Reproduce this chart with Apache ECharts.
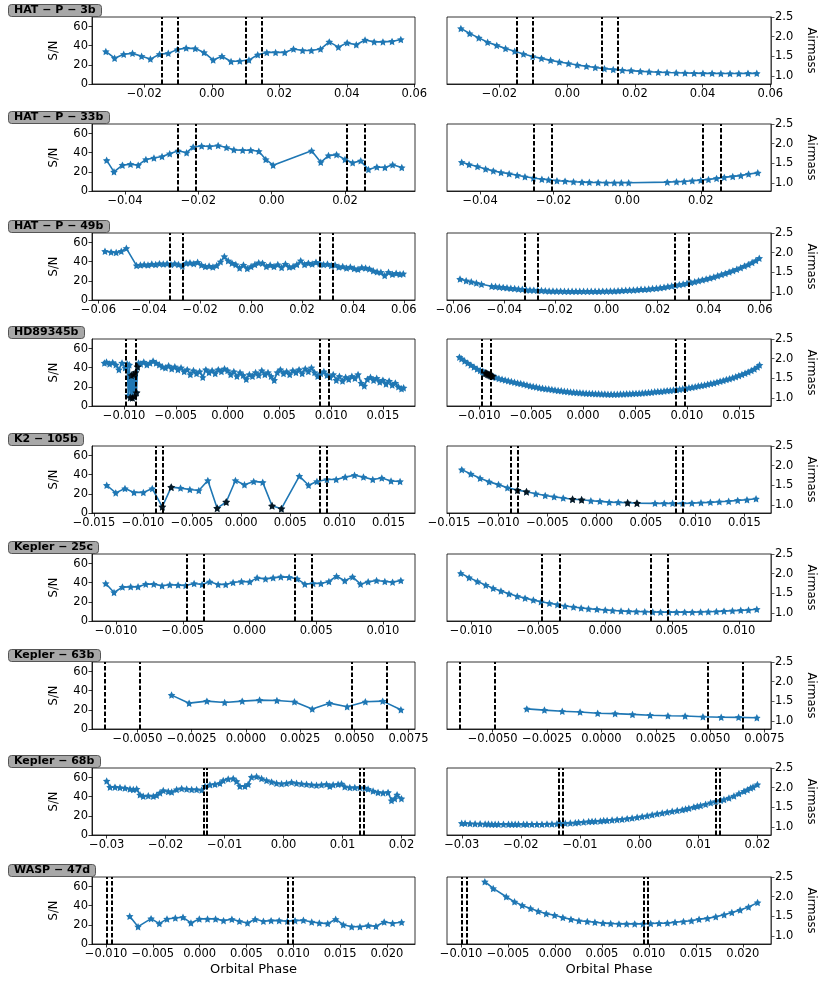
<!DOCTYPE html>
<html>
<head>
<meta charset="utf-8">
<script src="https://cdn.jsdelivr.net/npm/echarts@6/dist/echarts.min.js"></script>
<style>
  html, body { margin: 0; padding: 0; background: #fff; }
  #chart { width: 830px; height: 981px; }
</style>
</head>
<body>
<div id="chart"></div>
<script>
// ---- data ----
var planetLabels = ['HAT − P − 3b', 'HAT − P − 33b', 'HAT − P − 49b', 'HD89345b', 'K2 − 105b',
                    'Kepler − 25c', 'Kepler − 63b', 'Kepler − 68b', 'WASP − 47d'];

// HAT-P-3b
var hatp3bPhase = [-0.0314, -0.0288, -0.0261, -0.0235, -0.0208, -0.0182, -0.0155, -0.0129, -0.0102, -0.0076,
  -0.0049, -0.0023, 0.0004, 0.0030, 0.0057, 0.0083, 0.0110, 0.0136, 0.0163, 0.0189,
  0.0216, 0.0242, 0.0269, 0.0295, 0.0322, 0.0348, 0.0375, 0.0401, 0.0428, 0.0454,
  0.0481, 0.0507, 0.0534, 0.0560];
var hatp3bSnr = [34, 27, 31, 32, 29, 26, 31, 32, 36, 37.5, 37, 33, 25, 29, 23.5, 24, 25, 30.5, 33, 33,
  33, 36.5, 35, 35, 36.5, 44, 38.5, 43, 41, 46, 44, 44, 44.5, 46.5];
var hatp3bAirmass = [2.21, 2.08, 1.97, 1.86, 1.78, 1.70, 1.63, 1.56, 1.50, 1.45, 1.40, 1.36, 1.32, 1.28, 1.25,
  1.22, 1.19, 1.17, 1.15, 1.14, 1.12, 1.11, 1.10, 1.09, 1.085, 1.08, 1.075, 1.07, 1.07, 1.065,
  1.065, 1.065, 1.07, 1.07];

// HAT-P-33b
var hatp33bPhase = [-0.0450, -0.0430, -0.0407, -0.0385, -0.0364, -0.0343, -0.0321, -0.0299, -0.0278, -0.0255,
  -0.0232, -0.0214, -0.0191, -0.0169, -0.0146, -0.0123, -0.0103, -0.0079, -0.0057, -0.0035,
  -0.0016, 0.0004, 0.0109, 0.0134, 0.0155, 0.0177, 0.0200, 0.0221, 0.0243, 0.0264,
  0.0287, 0.0309, 0.0330, 0.0355];
var hatp33bSnr = [32, 20, 27, 28, 27, 33, 34.5, 36, 39, 42, 40, 46, 47, 46.5, 47.5, 45.5, 43, 42.5, 42.5, 41.5,
  33, 27, 42, 30, 37, 38, 33, 29.5, 31.5, 22.5, 25, 24.5, 27.5, 24.5];
var hatp33bAirmass = [1.53, 1.47, 1.42, 1.36, 1.31, 1.27, 1.24, 1.20, 1.16, 1.13, 1.10, 1.085, 1.06, 1.05, 1.035,
  1.025, 1.02, 1.015, 1.01, 1.01, 1.01, 1.01, 1.025, 1.035, 1.04, 1.06, 1.075, 1.09, 1.12, 1.145,
  1.17, 1.19, 1.23, 1.26];

// HAT-P-49b
var hatp49bPhase = [-0.0574, -0.0550, -0.0530, -0.0510, -0.0490, -0.0450, -0.0435, -0.0420, -0.0405, -0.0390,
  -0.0375, -0.0360, -0.0345, -0.0330, -0.0315, -0.0300, -0.0285, -0.0270, -0.0255, -0.0240,
  -0.0225, -0.0210, -0.0195, -0.0180, -0.0165, -0.0150, -0.0135, -0.0120, -0.0105, -0.0090,
  -0.0075, -0.0060, -0.0045, -0.0030, -0.0015, 0.0000, 0.0015, 0.0030, 0.0045, 0.0060,
  0.0075, 0.0090, 0.0105, 0.0120, 0.0135, 0.0150, 0.0165, 0.0180, 0.0195, 0.0210,
  0.0225, 0.0240, 0.0255, 0.0270, 0.0285, 0.0300, 0.0315, 0.0330, 0.0345, 0.0360,
  0.0375, 0.0390, 0.0405, 0.0420, 0.0435, 0.0450, 0.0465, 0.0480, 0.0495, 0.0510,
  0.0525, 0.0540, 0.0555, 0.0570, 0.0585, 0.0598];
var hatp49bSnr = [51, 50, 49.5, 51, 54, 36, 36.5, 37, 36.5, 37.5,
  37, 38, 37.5, 38, 37, 38, 37, 35.5, 38.5, 39,
  38, 39.5, 36.5, 35, 35.5, 34.5, 36, 40, 45.5, 41,
  38.5, 37, 33.5, 36.5, 33, 35, 37, 39, 38.5, 35,
  36.5, 35, 37, 34, 37.5, 34.5, 35, 37, 41, 37,
  38.5, 37.5, 39.5, 38, 37, 37.5, 36, 36.5, 34.5, 35,
  33.5, 34.5, 33, 32, 34, 33.5, 32.5, 30.5, 29.5, 29,
  25.5, 29, 27, 28, 27, 27.5];
var hatp49bAirmass = [1.33, 1.29, 1.26, 1.23, 1.20, 1.15, 1.14, 1.13, 1.12, 1.11,
  1.10, 1.09, 1.08, 1.07, 1.06, 1.055, 1.05, 1.045, 1.04, 1.035,
  1.03, 1.03, 1.025, 1.025, 1.02, 1.02, 1.02, 1.02, 1.02, 1.02,
  1.02, 1.02, 1.02, 1.02, 1.025, 1.025, 1.03, 1.03, 1.035, 1.04,
  1.045, 1.05, 1.055, 1.06, 1.07, 1.075, 1.08, 1.09, 1.10, 1.11,
  1.125, 1.14, 1.155, 1.175, 1.19, 1.205, 1.225, 1.245, 1.265, 1.29,
  1.31, 1.335, 1.36, 1.385, 1.415, 1.445, 1.475, 1.51, 1.545, 1.58,
  1.62, 1.66, 1.70, 1.75, 1.80, 1.86];

// HD89345b
var hd89345bPhase = [-0.0119, -0.0117, -0.0114, -0.0111, -0.0108, -0.0105, -0.0102, -0.0099, -0.0097, -0.0096,
  -0.0095, -0.0094, -0.0093, -0.0092, -0.0091, -0.0090, -0.0089, -0.0088, -0.0087, -0.0086,
  -0.0084, -0.0081, -0.0078, -0.0075, -0.0072, -0.0069, -0.0066, -0.0063, -0.0060, -0.0057,
  -0.0054, -0.0051, -0.0048, -0.0045, -0.0042, -0.0039, -0.0036, -0.0033, -0.0030, -0.0027,
  -0.0024, -0.0021, -0.0018, -0.0015, -0.0012, -0.0009, -0.0006, -0.0003, 0.0000, 0.0003,
  0.0006, 0.0009, 0.0012, 0.0015, 0.0018, 0.0021, 0.0024, 0.0027, 0.0030, 0.0033,
  0.0036, 0.0039, 0.0042, 0.0045, 0.0048, 0.0051, 0.0054, 0.0057, 0.0060, 0.0063,
  0.0066, 0.0069, 0.0072, 0.0075, 0.0078, 0.0081, 0.0084, 0.0087, 0.0090, 0.0093,
  0.0096, 0.0099, 0.0102, 0.0105, 0.0108, 0.0111, 0.0114, 0.0117, 0.0120, 0.0123,
  0.0126, 0.0129, 0.0132, 0.0135, 0.0138, 0.0141, 0.0144, 0.0147, 0.0150, 0.0153,
  0.0156, 0.0159, 0.0162, 0.0165, 0.0168, 0.0170];
var hd89345bSnr = [45, 46, 44, 45.5, 43, 38, 45, 40, 44, 11,
  43, 9, 32, 8.5, 33, 10, 35, 14, 41, 45,
  44, 46, 43, 45, 47, 45, 43, 41, 40, 42,
  39, 41, 38, 40, 36, 38, 33, 37, 34, 36,
  30, 38, 35, 37, 34, 38, 36, 39, 37, 33,
  36, 31, 35, 32, 28, 33, 31, 35, 32, 37,
  33, 35, 31, 27, 35, 38, 34, 36, 33, 37,
  35, 38, 34, 39, 36, 40, 35, 31, 34, 36,
  32, 30, 33, 27, 31, 26, 30, 28, 31, 29,
  33, 24, 21, 28, 30, 27, 29, 25, 27, 23,
  26, 22, 24, 20, 18, 19];
var hd89345bAirmass = [2.04, 2.00, 1.94, 1.89, 1.84, 1.79, 1.74, 1.70, 1.68, 1.665,
  1.65, 1.64, 1.63, 1.615, 1.60, 1.59, 1.575, 1.565, 1.555, 1.545,
  1.525, 1.50, 1.48, 1.46, 1.44, 1.42, 1.40, 1.385, 1.37, 1.35,
  1.33, 1.31, 1.295, 1.28, 1.265, 1.25, 1.24, 1.23, 1.22, 1.205,
  1.195, 1.185, 1.175, 1.165, 1.155, 1.15, 1.14, 1.135, 1.13, 1.125,
  1.12, 1.115, 1.11, 1.108, 1.105, 1.103, 1.10, 1.10, 1.10, 1.10,
  1.102, 1.105, 1.108, 1.11, 1.115, 1.12, 1.125, 1.13, 1.135, 1.14,
  1.15, 1.16, 1.165, 1.17, 1.18, 1.19, 1.195, 1.205, 1.215, 1.225,
  1.235, 1.245, 1.26, 1.275, 1.29, 1.305, 1.32, 1.335, 1.35, 1.37,
  1.385, 1.405, 1.425, 1.445, 1.47, 1.49, 1.515, 1.54, 1.57, 1.60,
  1.63, 1.665, 1.70, 1.74, 1.79, 1.84];
var hd89345bFlagged = [11, 12, 13, 14, 15, 16, 17, 18];

// K2-105b
var k2105bPhase = [-0.01370, -0.01278, -0.01184, -0.01092, -0.00997, -0.00906, -0.00804, -0.00713, -0.00618, -0.00523,
  -0.00432, -0.00340, -0.00245, -0.00153, -0.00059, 0.00033, 0.00127, 0.00219, 0.00314, 0.00409,
  0.00592, 0.00686, 0.00771, 0.00873, 0.00967, 0.01059, 0.01154, 0.01245, 0.01340, 0.01432,
  0.01526, 0.01618];
var k2105bSnr = [29, 21, 25.5, 21.5, 21.5, 25.5, 6.5, 27, 26, 24.5, 23.5, 34, 5, 11.5, 34, 29.5, 33, 32, 7.5, 4.5,
  38.5, 29, 33, 35, 35, 37.5, 39.5, 37.5, 35, 36.5, 33.5, 33];
var k2105bAirmass = [1.90, 1.79, 1.68, 1.59, 1.52, 1.44, 1.38, 1.34, 1.29, 1.245, 1.21, 1.18, 1.15, 1.135, 1.11,
  1.095, 1.075, 1.07, 1.06, 1.05, 1.045, 1.045, 1.045, 1.045, 1.05, 1.06, 1.07, 1.085, 1.10, 1.12,
  1.135, 1.16];
var k2105bFlagged = [6, 7, 12, 13, 18, 19];

// Kepler-25c
var kepler25cPhase = [-0.01077, -0.01015, -0.00952, -0.00890, -0.00835, -0.00777, -0.00717, -0.00655, -0.00597, -0.00535,
  -0.00478, -0.00415, -0.00355, -0.00298, -0.00235, -0.00178, -0.00123, -0.00060, 0.00002, 0.00057,
  0.00120, 0.00177, 0.00235, 0.00297, 0.00357, 0.00415, 0.00477, 0.00535, 0.00595, 0.00652,
  0.00714, 0.00772, 0.00832, 0.00889, 0.00952, 0.01014, 0.01072, 0.01134];
var kepler25cSnr = [39.2, 29.8, 35.4, 35.7, 35.7, 38.5, 38.5, 36.8, 37.8, 37.5,
  37.1, 39.2, 38.2, 40.9, 38.2, 38.2, 40.2, 41.3, 40.9, 45.1,
  44, 45.1, 46.1, 45.8, 44, 38.5, 39.2, 39.2, 41.3, 46.8,
  42, 46.1, 38.5, 40.9, 42.3, 41.3, 40.6, 42.3];
var kepler25cAirmass = [2.01, 1.90, 1.80, 1.71, 1.63, 1.56, 1.49, 1.43, 1.38, 1.33,
  1.29, 1.25, 1.215, 1.18, 1.155, 1.13, 1.11, 1.095, 1.08, 1.065,
  1.055, 1.045, 1.04, 1.035, 1.03, 1.025, 1.025, 1.025, 1.025, 1.025,
  1.03, 1.035, 1.04, 1.05, 1.06, 1.07, 1.08, 1.10];

// Kepler-63b
var kepler63bPhase = [-0.00343, -0.00262, -0.00180, -0.00098, -0.00017, 0.00063, 0.00143, 0.00224, 0.00306, 0.00385,
  0.00467, 0.00551, 0.00631, 0.00715];
var kepler63bSnr = [35.4, 27, 29.1, 27.7, 29.1, 30.2, 29.8, 28.4, 20.8, 27, 23.2, 28.4, 29.1, 20.1];
var kepler63bAirmass = [1.31, 1.28, 1.25, 1.23, 1.20, 1.19, 1.17, 1.15, 1.135, 1.13, 1.11, 1.10, 1.095, 1.085];

// Kepler-68b
var kepler68bPhase = [-0.03001, -0.02944, -0.02860, -0.02775, -0.02690, -0.02605, -0.02549, -0.02492, -0.02436, -0.02380,
  -0.02295, -0.02210, -0.02153, -0.02097, -0.02041, -0.01956, -0.01898, -0.01814, -0.01729, -0.01644,
  -0.01559, -0.01475, -0.01390, -0.01334, -0.01249, -0.01164, -0.01080, -0.01024, -0.00939, -0.00854,
  -0.00797, -0.00741, -0.00656, -0.00600, -0.00542, -0.00458, -0.00373, -0.00288, -0.00203, -0.00119,
  -0.00034, 0.00051, 0.00136, 0.00220, 0.00305, 0.00390, 0.00475, 0.00559, 0.00644, 0.00729,
  0.00785, 0.00841, 0.00925, 0.00983, 0.01039, 0.01124, 0.01209, 0.01293, 0.01378, 0.01434,
  0.01519, 0.01603, 0.01688, 0.01773, 0.01831, 0.01887, 0.01926, 0.02000];
var kepler68bSnr = [56.5, 50, 50, 49.5, 49, 48, 47.5, 48, 42, 40.5,
  41, 40.5, 41.5, 44, 46.5, 45.5, 45, 47.5, 48.5, 48,
  47.5, 47.5, 47, 51, 52.5, 53, 54, 57, 58.5, 59,
  56, 51, 51, 53, 60.5, 61, 59, 57, 55.5, 54,
  53.5, 54, 55, 54, 53.5, 53, 52.5, 52, 52.5, 53,
  51, 52.5, 53, 53.5, 50.5, 49.5, 49.5, 49.5, 49, 48,
  46, 44.5, 44, 44.5, 36, 38, 42, 38];
var kepler68bAirmass = [1.10, 1.095, 1.09, 1.085, 1.085, 1.08, 1.08, 1.075, 1.075, 1.075,
  1.075, 1.07, 1.07, 1.07, 1.07, 1.07, 1.07, 1.075, 1.075, 1.075,
  1.08, 1.08, 1.085, 1.09, 1.095, 1.105, 1.11, 1.12, 1.128, 1.14,
  1.145, 1.15, 1.157, 1.165, 1.17, 1.18, 1.19, 1.20, 1.215, 1.23,
  1.25, 1.27, 1.29, 1.315, 1.34, 1.36, 1.38, 1.40, 1.42, 1.44,
  1.46, 1.48, 1.51, 1.53, 1.55, 1.58, 1.62, 1.65, 1.68, 1.70,
  1.74, 1.79, 1.85, 1.91, 1.95, 1.99, 2.02, 2.08];

// WASP-47d
var wasp47dPhase = [-0.00747, -0.00658, -0.00519, -0.00431, -0.00349, -0.00260, -0.00178, -0.00093, -0.00004, 0.00084,
  0.00170, 0.00255, 0.00344, 0.00425, 0.00511, 0.00593, 0.00681, 0.00763, 0.00849, 0.00937,
  0.01019, 0.01108, 0.01197, 0.01278, 0.01368, 0.01453, 0.01534, 0.01624, 0.01712, 0.01801,
  0.01883, 0.01971, 0.02061, 0.02157];
var wasp47dSnr = [29, 18.1, 26.5, 21.3, 26.2, 27.2, 27.9, 22, 26.2, 26.2,
  26.2, 24.4, 25.8, 23.7, 22, 25.8, 23.7, 24.4, 24.4, 23.7,
  24.4, 24.8, 23, 22, 21.3, 25.8, 20.2, 18.1, 18.1, 19.2,
  18.5, 23, 21.6, 22.7];
var wasp47dAirmass = [2.38, 2.21, 2.0, 1.87, 1.78, 1.70, 1.63, 1.57, 1.53, 1.47,
  1.43, 1.39, 1.37, 1.35, 1.33, 1.32, 1.31, 1.31, 1.31, 1.31,
  1.32, 1.325, 1.33, 1.35, 1.37, 1.39, 1.43, 1.45, 1.49, 1.54,
  1.60, 1.66, 1.74, 1.85];

// transit contact phases (dashed lines)
var transitPhases = [
  [-0.0149, -0.0102, 0.0102, 0.0149],
  [-0.0255, -0.0206, 0.0206, 0.0255],
  [-0.0321, -0.0268, 0.0268, 0.0321],
  [-0.0098, -0.0089, 0.0089, 0.0098],
  [-0.0087, -0.0080, 0.0080, 0.0087],
  [-0.0047, -0.0034, 0.0034, 0.0047],
  [-0.0065, -0.0049, 0.0049, 0.0065],
  [-0.0136, -0.0130, 0.0130, 0.0136],
  [-0.0099, -0.0094, 0.0094, 0.0099]
];

// x-axis limits and tick labels per row
var phaseLimits = [[-0.0355, 0.0602], [-0.0490, 0.0391], [-0.0625, 0.0644], [-0.0131, 0.0181], [-0.0152, 0.0177],
                   [-0.0118, 0.0124], [-0.0071, 0.0078], [-0.0325, 0.0223], [-0.0115, 0.0230]];
var phaseTicks = [
  [-0.02, 0, 0.02, 0.04, 0.06],
  [-0.04, -0.02, 0, 0.02],
  [-0.06, -0.04, -0.02, 0, 0.02, 0.04, 0.06],
  [-0.010, -0.005, 0, 0.005, 0.010, 0.015],
  [-0.015, -0.010, -0.005, 0, 0.005, 0.010, 0.015],
  [-0.010, -0.005, 0, 0.005, 0.010],
  [-0.005, -0.0025, 0, 0.0025, 0.005, 0.0075],
  [-0.03, -0.02, -0.01, 0, 0.01, 0.02],
  [-0.010, -0.005, 0, 0.005, 0.010, 0.015, 0.020]
];
var phaseDecimals = [2, 2, 2, 3, 3, 3, 4, 2, 3];
var snrTicks = [0, 20, 40, 60];
var airmassTicks = [1.0, 1.5, 2.0, 2.5];

var planets = [
  { phase: hatp3bPhase, snr: hatp3bSnr, air: hatp3bAirmass, flagged: [] },
  { phase: hatp33bPhase, snr: hatp33bSnr, air: hatp33bAirmass, flagged: [] },
  { phase: hatp49bPhase, snr: hatp49bSnr, air: hatp49bAirmass, flagged: [] },
  { phase: hd89345bPhase, snr: hd89345bSnr, air: hd89345bAirmass, flagged: hd89345bFlagged },
  { phase: k2105bPhase, snr: k2105bSnr, air: k2105bAirmass, flagged: k2105bFlagged },
  { phase: kepler25cPhase, snr: kepler25cSnr, air: kepler25cAirmass, flagged: [] },
  { phase: kepler63bPhase, snr: kepler63bSnr, air: kepler63bAirmass, flagged: [] },
  { phase: kepler68bPhase, snr: kepler68bSnr, air: kepler68bAirmass, flagged: [] },
  { phase: wasp47dPhase, snr: wasp47dSnr, air: wasp47dAirmass, flagged: [] }
];

// ---- layout / style ----
var rowTops = [17, 124, 233, 339, 446, 554, 662, 768, 877];
var panelH = 67;
var blue = '#1f77b4';
var star = 'path://M0,-10L2.94,-4.05L9.51,-3.09L4.76,1.55L5.88,8.09L0,5L-5.88,8.09L-4.76,1.55L-9.51,-3.09L-2.94,-4.05Z';
var font = 'DejaVu Sans';

function pairs(xs, ys) {
  return xs.map(function (x, k) { return [x, ys[k]]; });
}

function phaseFormatter(dec) {
  return function (v) {
    return (v < 0 ? '\u2212' : '') + Math.abs(v).toFixed(dec);
  };
}

var grids = [], xAxes = [], yAxes = [], series = [], titles = [];

planets.forEach(function (p, i) {
  var top = rowTops[i];
  var last = i === planets.length - 1;

  grids.push({ left: 92, top: top, width: 323, height: panelH, show: true, borderColor: '#000', borderWidth: 0.8 });
  grids.push({ left: 447, top: top, width: 324, height: panelH, show: true, borderColor: '#000', borderWidth: 0.8 });

  titles.push({
    text: planetLabels[i], left: 8, top: top - 13,
    backgroundColor: '#a8a8a8', borderColor: '#555', borderWidth: 1, borderRadius: 3,
    padding: [1, 6],
    textStyle: { fontFamily: font, fontWeight: 'bold', fontSize: 11, lineHeight: 11, color: '#000' }
  });

  for (var side = 0; side < 2; side++) {
    var gi = 2 * i + side;
    xAxes.push({
      type: 'value', gridIndex: gi,
      min: phaseLimits[i][0], max: phaseLimits[i][1],
      splitLine: { show: false },
      axisLine: { show: true, onZero: false, lineStyle: { color: '#000', width: 0.8 } },
      axisTick: { show: true, length: 3.5, customValues: phaseTicks[i], lineStyle: { color: '#000', width: 0.8 } },
      axisLabel: { customValues: phaseTicks[i], formatter: phaseFormatter(phaseDecimals[i]),
                   color: '#000', fontFamily: font, fontSize: 11.5, margin: 4 },
      name: last ? 'Orbital Phase' : '',
      nameLocation: 'middle', nameGap: 19,
      nameTextStyle: { fontFamily: font, fontSize: 13, color: '#000' }
    });
  }

  yAxes.push({
    type: 'value', gridIndex: 2 * i, min: 0, max: 70,
    splitLine: { show: false },
    axisLine: { show: true, onZero: false, lineStyle: { color: '#000', width: 0.8 } },
    axisTick: { show: true, length: 3.5, customValues: snrTicks, lineStyle: { color: '#000', width: 0.8 } },
    axisLabel: { customValues: snrTicks, color: '#000', fontFamily: font, fontSize: 11.5, margin: 4 },
    name: 'S/N', nameLocation: 'middle', nameRotate: 90, nameGap: 32,
    nameTextStyle: { fontFamily: font, fontSize: 11.5, color: '#000' }
  });
  yAxes.push({
    type: 'value', gridIndex: 2 * i + 1, position: 'right', min: 0.8, max: 2.5,
    splitLine: { show: false },
    axisLine: { show: true, onZero: false, lineStyle: { color: '#333', width: 0.8 } },
    axisTick: { show: true, length: 3.5, customValues: airmassTicks, lineStyle: { color: '#333', width: 0.8 } },
    axisLabel: { customValues: airmassTicks, formatter: function (v) { return v.toFixed(1); },
                 color: '#000', fontFamily: font, fontSize: 11.5, margin: 4 },
    name: 'Airmass', nameLocation: 'middle', nameRotate: -90, nameGap: 34,
    nameTextStyle: { fontFamily: font, fontSize: 11.5, color: '#000' }
  });

  var marks = {
    silent: true, animation: false,
    precision: 8,
    symbol: ['none', 'none'],
    label: { show: false },
    lineStyle: { color: '#000', type: [4.5, 2], width: 2 },
    emphasis: { disabled: true },
    data: transitPhases[i].map(function (v) { return { xAxis: v }; })
  };

  [[p.snr, 2 * i], [p.air, 2 * i + 1]].forEach(function (pair) {
    var ys = pair[0], gi = pair[1];
    series.push({
      type: 'line', xAxisIndex: gi, yAxisIndex: gi,
      data: pairs(p.phase, ys),
      symbol: star, symbolSize: 7.5, showAllSymbol: true,
      lineStyle: { color: blue, width: 1.6 },
      itemStyle: { color: blue },
      animation: false, silent: true,
      markLine: marks
    });
    if (p.flagged.length) {
      series.push({
        type: 'scatter', xAxisIndex: gi, yAxisIndex: gi,
        data: p.flagged.map(function (k) { return [p.phase[k], ys[k]]; }),
        symbol: star, symbolSize: 8,
        itemStyle: { color: '#000' },
        z: 5, animation: false, silent: true
      });
    }
  });
});

var chart = echarts.init(document.getElementById('chart'), null, { renderer: 'canvas' });
chart.setOption({
  backgroundColor: '#fff',
  animation: false,
  title: titles,
  grid: grids,
  xAxis: xAxes,
  yAxis: yAxes,
  series: series
});
</script>
</body>
</html>
